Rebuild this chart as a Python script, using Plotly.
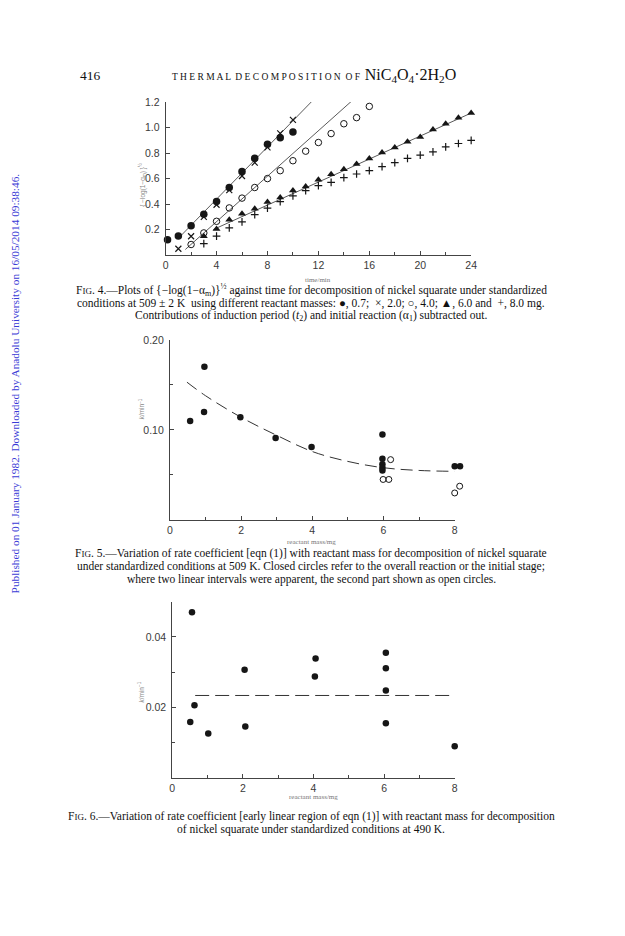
import plotly.graph_objects as go

W, H = 625, 936

# ---------------- Fig. 4 data ----------------
t_c07 = [0.15, 1, 2, 3, 4, 5, 6, 7, 8, 9, 10]
v_c07 = [0.12, 0.15, 0.23, 0.32, 0.42, 0.53, 0.655, 0.76, 0.87, 0.92, 0.965]
t_x20 = [1, 2, 3, 4, 5, 6, 7, 8, 9, 10]
v_x20 = [0.05, 0.148, 0.30, 0.395, 0.51, 0.62, 0.725, 0.845, 0.955, 1.06]
t_o40 = [2, 3, 4, 5, 6, 7, 8, 9, 10, 11, 12, 13, 14, 15, 16]
v_o40 = [0.083, 0.174, 0.265, 0.37, 0.447, 0.53, 0.60, 0.662, 0.74, 0.815,
         0.883, 0.953, 1.03, 1.078, 1.166]
t_t60 = [3, 4, 5, 6, 7, 8, 9, 10, 11, 12, 13, 14, 15, 16, 17, 18, 19, 20, 21, 22, 23, 24]
v_t60 = [0.148, 0.205, 0.278, 0.325, 0.364, 0.416, 0.452, 0.506, 0.538, 0.59,
         0.634, 0.673, 0.714, 0.758, 0.805, 0.844, 0.888, 0.927, 0.984, 1.03,
         1.078, 1.114]
t_p80 = [3, 4, 5, 6, 7, 8, 9, 10, 11, 12, 13, 14, 15, 16, 17, 18, 19, 20, 21, 22, 23, 24]
v_p80 = [0.09, 0.148, 0.213, 0.26, 0.317, 0.369, 0.42, 0.465, 0.506, 0.545,
         0.571, 0.608, 0.636, 0.662, 0.694, 0.725, 0.758, 0.784, 0.81, 0.849,
         0.875, 0.90]
# fitted straight lines (end points)
fitA_t = [1.16, 11.48]
fitA_v = [0.148, 1.205]
fitB_t = [1.55, 14.58]
fitB_v = [0.044, 1.205]
fitC_t = [3.74, 24.0]
fitC_v = [0.20, 1.114]

# ---------------- Fig. 5 data ----------------
m5_closed = [0.57, 0.97, 0.96, 1.98, 2.97, 3.98, 5.97, 5.97, 5.97, 5.97, 5.97, 8.0, 8.15]
k5_closed = [0.110, 0.170, 0.120, 0.114, 0.091, 0.081, 0.095, 0.068, 0.062, 0.058, 0.055, 0.0596, 0.0596]
m5_open = [6.2, 5.99, 6.15, 8.0, 8.14]
k5_open = [0.067, 0.045, 0.045, 0.030, 0.0375]
m5_curve = [0.48, 1.0, 2.0, 3.0, 4.0, 5.0, 6.0, 7.0, 8.0]
k5_curve = [0.153, 0.138, 0.114, 0.094, 0.076, 0.065, 0.058, 0.055, 0.054]

# ---------------- Fig. 6 data ----------------
m6 = [0.56, 0.51, 0.63, 1.02, 2.05, 2.07, 4.06, 4.04, 6.05, 6.05, 6.05, 6.05, 8.0]
k6 = [0.047, 0.0159, 0.0206, 0.0126, 0.0307, 0.0146, 0.0339, 0.0288,
      0.0355, 0.0311, 0.0248, 0.0155, 0.009]
m6_mean = [0.65, 8.0]
k6_mean = [0.0234, 0.0234]

INK = "#161616"
AX = "#444444"
TICKF = dict(family="Liberation Sans", size=10.5, color="#3a3a3a")


def px_x(p):
    return p / W


def px_y(p):
    return 1 - p / H


fig = go.Figure()

# Fig. 4
for tx, ty in [(fitA_t, fitA_v), (fitB_t, fitB_v), (fitC_t, fitC_v)]:
    fig.add_trace(go.Scatter(x=tx, y=ty, mode="lines", line=dict(color="#5a5a5a", width=1),
                             xaxis="x", yaxis="y", cliponaxis=False, hoverinfo="skip"))
fig.add_trace(go.Scatter(x=t_c07, y=v_c07, mode="markers", xaxis="x", yaxis="y", cliponaxis=False,
                         marker=dict(symbol="circle", size=7.5, color=INK)))
fig.add_trace(go.Scatter(x=t_x20, y=v_x20, mode="markers", xaxis="x", yaxis="y", cliponaxis=False,
                         marker=dict(symbol="x-thin-open", size=6, color=INK, line=dict(color=INK, width=1.2))))
fig.add_trace(go.Scatter(x=t_o40, y=v_o40, mode="markers", xaxis="x", yaxis="y", cliponaxis=False,
                         marker=dict(symbol="circle-open", size=6.5, color=INK, line=dict(color=INK, width=1))))
fig.add_trace(go.Scatter(x=t_t60, y=v_t60, mode="markers", xaxis="x", yaxis="y", cliponaxis=False,
                         marker=dict(symbol="triangle-up", size=7, color=INK)))
fig.add_trace(go.Scatter(x=t_p80, y=v_p80, mode="markers", xaxis="x", yaxis="y", cliponaxis=False,
                         marker=dict(symbol="cross-thin-open", size=5.5, color=INK, line=dict(color=INK, width=1.2))))

# Fig. 5 (markers on an invisible overlay axis of identical scale that reaches past 8)
fig.add_trace(go.Scatter(x=m5_curve, y=k5_curve, mode="lines", xaxis="x2", yaxis="y2",
                         line=dict(color="#333", width=1, dash="12px,6px", shape="spline"), cliponaxis=False))
fig.add_trace(go.Scatter(x=m5_closed, y=k5_closed, mode="markers", xaxis="x4", yaxis="y2", cliponaxis=False,
                         marker=dict(symbol="circle", size=6.5, color=INK)))
fig.add_trace(go.Scatter(x=m5_open, y=k5_open, mode="markers", xaxis="x4", yaxis="y2", cliponaxis=False,
                         marker=dict(symbol="circle-open", size=6, color=INK, line=dict(color=INK, width=1))))

# Fig. 6
fig.add_trace(go.Scatter(x=m6_mean, y=k6_mean, mode="lines", xaxis="x3", yaxis="y3",
                         line=dict(color="#333", width=1, dash="14px,6px"), cliponaxis=False))
fig.add_trace(go.Scatter(x=m6, y=k6, mode="markers", xaxis="x3", yaxis="y3", cliponaxis=False,
                         marker=dict(symbol="circle", size=6.5, color=INK)))


def xax(dom, rng, dtick, minor, anchor):
    return dict(domain=dom, range=rng, dtick=dtick, tick0=0, showline=True, linecolor=AX, linewidth=1,
                ticks="inside", ticklen=4, tickcolor=AX, showgrid=False, zeroline=False,
                tickfont=TICKF, anchor=anchor, fixedrange=True,
                minor=dict(dtick=minor, tick0=0, ticks="inside", ticklen=3, tickcolor=AX, showgrid=False))


def yax(dom, rng, tickvals, fmt, minor, anchor):
    return dict(domain=dom, range=rng, tickvals=tickvals, tickformat=fmt, showline=True, linecolor=AX,
                linewidth=1, ticks="inside", ticklen=4, tickcolor=AX, showgrid=False, zeroline=False,
                tickfont=TICKF, anchor=anchor, fixedrange=True, ticklabelstandoff=3,
                minor=dict(dtick=minor, tick0=0, ticks="inside", ticklen=3, tickcolor=AX, showgrid=False))


x5_l, x5_r = 169.3, 458.3
x5_scale = (x5_r - x5_l) / 8.0

fig.update_layout(
    width=W, height=H, margin=dict(l=0, r=0, t=0, b=0),
    paper_bgcolor="white", plot_bgcolor="rgba(0,0,0,0)", showlegend=False,
    xaxis=xax([px_x(165), px_x(475)], [0, 24], 4, 2, "y"),
    yaxis=yax([px_y(250.7), px_y(96.7)], [0, 1.2], [0.2, 0.4, 0.6, 0.8, 1.0, 1.2], ".1f", 0.2, "x"),
    xaxis2=xax([px_x(x5_l), px_x(x5_r)], [0, 8], 2, 1, "y2"),
    yaxis2=yax([px_y(517.3), px_y(336)], [0, 0.20], [0.10, 0.20], ".2f", 0.05, "x2"),
    xaxis3=xax([px_x(171.7), px_x(458.3)], [0, 8], 2, 1, "y3"),
    yaxis3=yax([px_y(777), px_y(599.5)], [0, 0.05], [0.02, 0.04], ".2f", 0.01, "x3"),
    xaxis4=dict(domain=[px_x(x5_l), px_x(x5_l + 8.5 * x5_scale)], range=[0, 8.5], visible=False,
                anchor="y2", fixedrange=True, showgrid=False, zeroline=False),
)

ann = []
SERIF = "Liberation Serif"


def text(xp, yp, s, size=11.5, color="#111", xanchor="center", angle=0, family=SERIF):
    ann.append(dict(x=px_x(xp), y=px_y(yp), xref="paper", yref="paper", text=s, showarrow=False,
                    xanchor=xanchor, yanchor="middle", textangle=angle,
                    font=dict(family=family, size=size, color=color)))


# header
text(76, 70, "416", size=13.5, xanchor="left")
text(316, 70, "T H E R M A L  D E C O M P O S I T I O N  O F  <span style='font-size:16px'>NiC<sub>4</sub>O<sub>4</sub>·2H<sub>2</sub>O</span>",
     size=9.5)

# side watermark
text(12, 380, "Published on 01 January 1982. Downloaded by Anadolu University on 16/05/2014 09:38:46.",
     size=11.3, color="#3b3bd6", angle=-90)

SC = "<span style='font-size:9px'>IG</span>"
# fig 4 axis labels & caption
text(320, 276, "time/min", size=7, color="#777")
text(141, 180, "{ −log(1−α<sub>m</sub>) }<sup>½</sup>", size=6.5, color="#888", angle=-90, family="Liberation Sans")
text(313, 286, "F" + SC + ". 4.—Plots of {−log(1−α<sub>m</sub>)}<sup>½</sup> against time for decomposition of nickel squarate under standardized")
text(313, 299, "conditions at 509 ± 2 K  using different reactant masses: ●, 0.7;  ×, 2.0; ○, 4.0; ▲, 6.0 and  +, 8.0 mg.")
text(313, 312, "Contributions of induction period (<i>t</i><sub>2</sub>) and initial reaction (α<sub>1</sub>) subtracted out.")

# fig 5
text(313, 539, "reactant mass/mg", size=7, color="#777")
text(141, 405, "<i>k</i>/min<sup>−1</sup>", size=6.5, color="#888", angle=-90, family="Liberation Sans")
text(313, 551, "F" + SC + ". 5.—Variation of rate coefficient [eqn (1)] with reactant mass for decomposition of nickel squarate")
text(313, 564, "under standardized conditions at 509 K. Closed circles refer to the overall reaction or the initial stage;")
text(313, 577, "where two linear intervals were apparent, the second part shown as open circles.")

# fig 6
text(315, 796, "reactant mass/mg", size=7, color="#777")
text(140, 690, "<i>k</i>/min<sup>−1</sup>", size=6.5, color="#888", angle=-90, family="Liberation Sans")
text(313, 816, "F" + SC + ". 6.—Variation of rate coefficient [early linear region of eqn (1)] with reactant mass for decomposition")
text(313, 829, "of nickel squarate under standardized conditions at 490 K.")

fig.update_layout(annotations=ann)
fig.write_html("out.html", config={"displayModeBar": False},
               post_script="document.body.style.margin='0';document.body.style.overflow='hidden';")
